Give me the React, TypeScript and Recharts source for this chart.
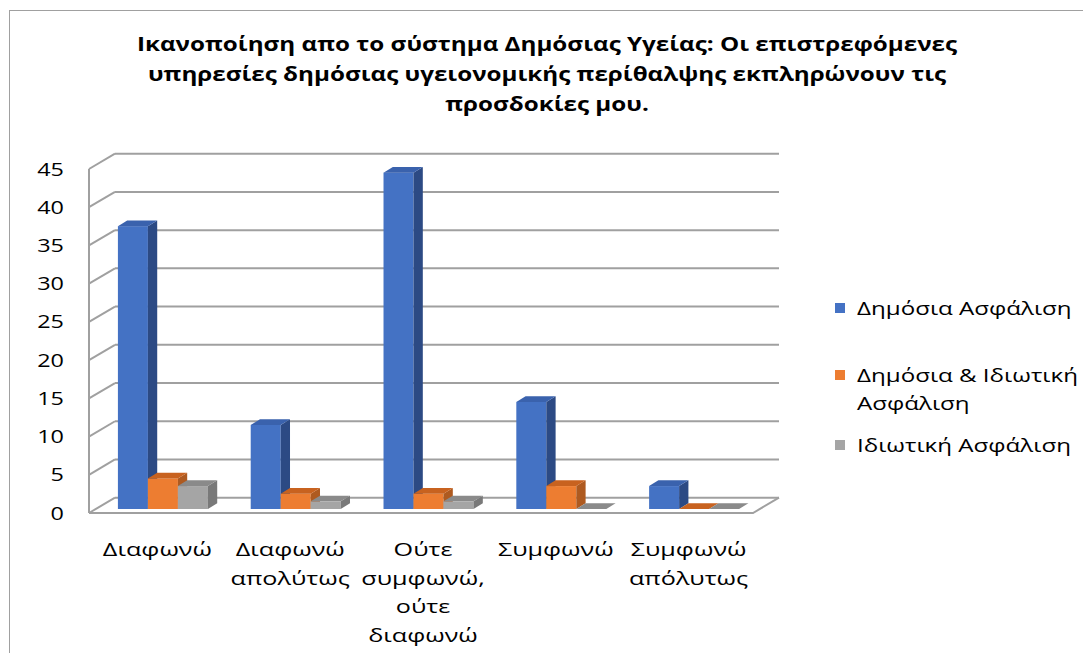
import { BarChart, Bar, XAxis, YAxis, CartesianGrid } from "recharts";

const categories = [
  "Διαφωνώ",
  "Διαφωνώ απολύτως",
  "Ούτε συμφωνώ, ούτε διαφωνώ",
  "Συμφωνώ",
  "Συμφωνώ απόλυτως",
];
const publicInsurance = [37, 11, 44, 14, 3];
const mixedInsurance = [4, 2, 2, 3, 0];
const privateInsurance = [3, 1, 1, 0, 0];
const seriesNames = ["Δημόσια Ασφάλιση", "Δημόσια & Ιδιωτική Ασφάλιση", "Ιδιωτική Ασφάλιση"];
const yTicks = [0, 5, 10, 15, 20, 25, 30, 35, 40, 45];
const titleLines = [
  "Ικανοποίηση απο το σύστημα Δημόσιας Υγείας: Οι επιστρεφόμενες",
  "υπηρεσίες δημόσιας υγειονομικής περίθαλψης εκπληρώνουν τις",
  "προσδοκίες μου.",
];
const legendLines = [["Δημόσια Ασφάλιση"], ["Δημόσια & Ιδιωτική", "Ασφάλιση"], ["Ιδιωτική Ασφάλιση"]];

const data = categories.map((name, i) => ({
  name,
  pub: publicInsurance[i],
  mix: mixedInsurance[i],
  priv: privateInsurance[i],
}));

const W = 1083;
const H = 645;
const FONT = '"Open Sans", sans-serif';
const NUM_SX = 1.3;
const TEXT_SX = 1.4;
const LEGEND_SX = 1.34;
const TITLE_SX = 1.21;
const GRID = "#a0a0a0";

// 3D offsets relative to the bar plane
const FRONT_DX = -7;
const FRONT_DY = 4;
const BACK_DX = 19;
const BACK_DY = -11.3;
const BAR_DX = 9.3;
const BAR_DY = -5.7;

const COLORS = [
  { front: "#4472c4", side: "#2c4a84", top: "#3a62ad" },
  { front: "#ed7d31", side: "#ae5a20", top: "#c8621f" },
  { front: "#a5a5a5", side: "#797979", top: "#8a8a8a" },
];

function makeBox(c: { front: string; side: string; top: string }) {
  return (props: any) => {
    const { x, y, width: w, height } = props;
    const h = Math.max(0, height || 0);
    return (
      <g>
        <rect x={x} y={y} width={w} height={h} fill={c.front} />
        <polygon
          points={`${x + w},${y} ${x + w + BAR_DX},${y + BAR_DY} ${x + w + BAR_DX},${y + h + BAR_DY} ${x + w},${y + h}`}
          fill={c.side}
        />
        <polygon
          points={`${x},${y} ${x + BAR_DX},${y + BAR_DY} ${x + w + BAR_DX},${y + BAR_DY} ${x + w},${y}`}
          fill={c.top}
        />
      </g>
    );
  };
}

function WallLine(props: any) {
  const { x1, y1, x2 } = props;
  const top = props.y ?? 157;
  const bottom = top + (props.height ?? 344);
  const isFloor = Math.abs(y1 - bottom) < 0.5;
  const isTop = Math.abs(y1 - top) < 0.5;
  const fx = x1 + FRONT_DX;
  return (
    <g stroke={GRID} strokeWidth={2} fill="none">
      <line x1={x1 + BACK_DX} y1={y1 + BACK_DY} x2={x2 + BACK_DX} y2={y1 + BACK_DY} />
      <line x1={fx} y1={y1 + FRONT_DY} x2={x1 + BACK_DX} y2={y1 + BACK_DY} />
      {isTop && <line x1={fx} y1={top + FRONT_DY} x2={fx} y2={bottom + FRONT_DY} />}
      {isFloor && (
        <polyline
          points={`${fx},${y1 + FRONT_DY} ${x2 + FRONT_DX},${y1 + FRONT_DY} ${x2 + BACK_DX},${y1 + BACK_DY}`}
        />
      )}
    </g>
  );
}

function YTick(props: any) {
  const { y, payload } = props;
  return (
    <text
      transform={`translate(56,${y + 10.5}) scale(${NUM_SX},1)`}
      textAnchor="end"
      fontFamily={FONT}
      fontSize={18}
      fill="#000"
    >
      {payload.value}
    </text>
  );
}

function XTick(props: any) {
  const { x, payload } = props;
  const words = String(payload.value).split(" ");
  return (
    <g>
      {words.map((wd, i) => (
        <text
          key={i}
          transform={`translate(${x - 5},${548 + i * 28.6}) scale(${TEXT_SX},1)`}
          textAnchor="middle"
          fontFamily={FONT}
          fontSize={18}
          fill="#000"
        >
          {wd}
        </text>
      ))}
    </g>
  );
}

export default function App() {
  const legendBase = [307, 374, 444];
  return (
    <div style={{ position: "relative", width: W, height: H, overflow: "hidden", background: "#fff" }}>
      <div
        style={{
          position: "absolute",
          left: 1,
          top: 2,
          right: -20,
          bottom: -20,
          borderTop: `1.5px solid ${GRID}`,
          borderLeft: `1.5px solid ${GRID}`,
        }}
      />
      <BarChart
        width={W}
        height={H}
        data={data}
        margin={{ top: 157, right: 331, bottom: 44, left: 0 }}
        barCategoryGap="16.5%"
        barGap={0}
        style={{ position: "absolute", left: 0, top: 0 }}
      >
        <CartesianGrid vertical={false} horizontal={(p: any) => <WallLine {...p} />} />
        <XAxis
          dataKey="name"
          axisLine={false}
          tickLine={false}
          height={100}
          interval={0}
          tick={<XTick />}
        />
        <YAxis
          domain={[0, 45]}
          ticks={yTicks}
          interval={0}
          axisLine={false}
          tickLine={false}
          width={88}
          tick={<YTick />}
        />
        <Bar dataKey="pub" name={seriesNames[0]} shape={makeBox(COLORS[0])} isAnimationActive={false} />
        <Bar dataKey="mix" name={seriesNames[1]} shape={makeBox(COLORS[1])} isAnimationActive={false} />
        <Bar dataKey="priv" name={seriesNames[2]} shape={makeBox(COLORS[2])} isAnimationActive={false} />
      </BarChart>
      <svg width={W} height={H} style={{ position: "absolute", left: 0, top: 0, pointerEvents: "none" }}>
        {titleLines.map((t, i) => (
          <text
            key={i}
            transform={`translate(539,${43 + i * 30}) scale(${TITLE_SX},1)`}
            textAnchor="middle"
            fontFamily={FONT}
            fontWeight="bold"
            fontSize={20}
            fill="#000"
          >
            {t}
          </text>
        ))}
        {legendLines.map((lines, i) => (
          <g key={i}>
            <rect x={827} y={legendBase[i] - 12} width={10} height={10} fill={COLORS[i].front} />
            {lines.map((t, j) => (
              <text
                key={j}
                transform={`translate(849,${legendBase[i] + j * 28}) scale(${LEGEND_SX},1)`}
                fontFamily={FONT}
                fontSize={18}
                fill="#000"
              >
                {t}
              </text>
            ))}
          </g>
        ))}
      </svg>
    </div>
  );
}
